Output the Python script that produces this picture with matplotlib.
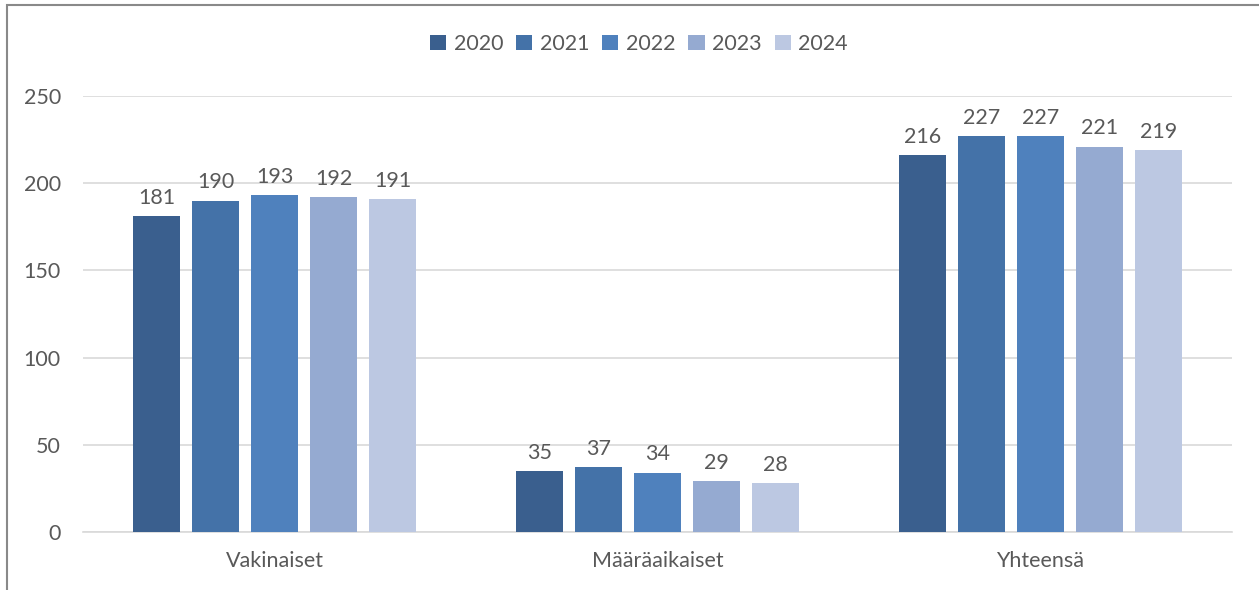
import matplotlib.pyplot as plt
import numpy as np
from matplotlib.patches import Rectangle

categories = ["Vakinaiset", "Määräaikaiset", "Yhteensä"]
years = ["2020", "2021", "2022", "2023", "2024"]
values = {
    "2020": [181, 35, 216],
    "2021": [190, 37, 227],
    "2022": [193, 34, 227],
    "2023": [192, 29, 221],
    "2024": [191, 28, 219],
}
colors = ["#3A5F8E", "#4472A8", "#4F81BD", "#95AAD1", "#BCC8E2"]

plt.rcParams["font.family"] = ["Lato", "DejaVu Sans"]
text_color = "#595959"
fs = 15.5

W, H = 1259, 590
fig = plt.figure(figsize=(W / 100, H / 100), dpi=100)
ax = fig.add_axes([83 / W, (H - 532) / H, (1232 - 83) / W, (532 - 96) / H])

x = np.arange(len(categories))
pitch = 0.154
width = 0.123
for i, year in enumerate(years):
    pos = x + (i - 2) * pitch
    bars = ax.bar(pos, values[year], width=width, color=colors[i], label=year, zorder=3)
    for b, v in zip(bars, values[year]):
        ax.annotate(str(v), (b.get_x() + b.get_width() / 2, v), xytext=(0, 6),
                    textcoords="offset points", ha="center", va="bottom",
                    fontsize=fs, color=text_color)

ax.set_xlim(-0.5, 2.5)
ax.set_ylim(0, 250)
ax.set_yticks(range(0, 251, 50))
ax.set_xticks(x)
ax.set_xticklabels(categories)
ax.grid(axis="y", color="#D9D9D9", linewidth=1.2, zorder=0)
for s in ["top", "right", "left"]:
    ax.spines[s].set_visible(False)
ax.spines["bottom"].set_color("#D9D9D9")
ax.spines["bottom"].set_linewidth(1.2)
ax.tick_params(axis="both", length=0, labelsize=fs, colors=text_color)
ax.tick_params(axis="y", pad=16)
ax.tick_params(axis="x", pad=14)

fig.legend(loc="center", bbox_to_anchor=(639 / W, 1 - 44 / H), ncol=5, frameon=False,
           fontsize=fs, handlelength=0.75, handleheight=0.75, handletextpad=0.35,
           columnspacing=0.6, labelcolor=text_color)

fig.patches.append(Rectangle((7 / W, -0.1), 1.2, 1.1 - 5 / H, transform=fig.transFigure,
                             fill=False, edgecolor="#898989", linewidth=1.5))

fig.savefig("out.png", dpi=100)
